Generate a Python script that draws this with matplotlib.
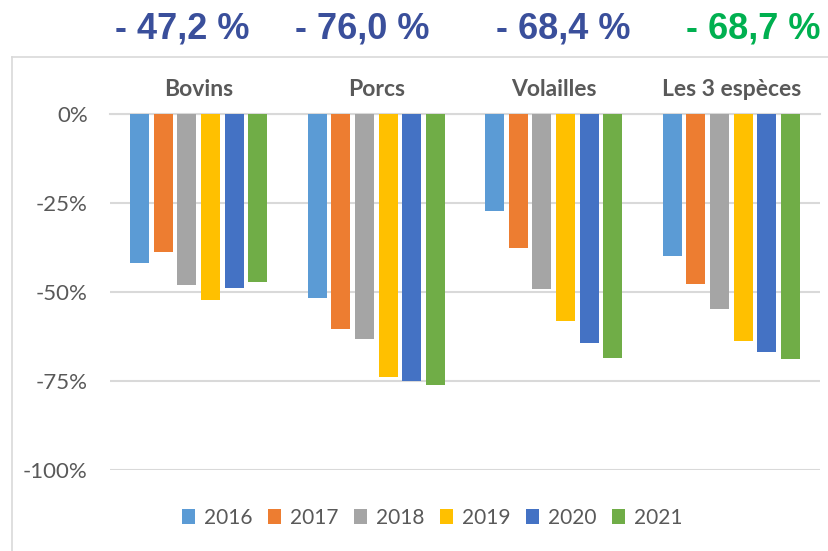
import matplotlib
matplotlib.use("Agg")
import matplotlib.pyplot as plt
from matplotlib.lines import Line2D
import numpy as np

categories = ["Bovins", "Porcs", "Volailles", "Les 3 espèces"]
years = ["2016", "2017", "2018", "2019", "2020", "2021"]
values = {
    "2016": [-41.9, -51.6, -27.3, -40.0],
    "2017": [-38.9, -60.3, -37.5, -47.8],
    "2018": [-48.0, -63.3, -49.2, -54.9],
    "2019": [-52.2, -73.8, -58.1, -63.9],
    "2020": [-48.8, -75.1, -64.4, -66.8],
    "2021": [-47.2, -76.0, -68.4, -68.7],
}
colors = ["#5B9BD5", "#ED7D31", "#A5A5A5", "#FFC000", "#4472C4", "#70AD47"]
headline = ["- 47,2 %", "- 76,0 %", "- 68,4 %", "- 68,7 %"]
headline_colors = ["#3A4F9B", "#3A4F9B", "#3A4F9B", "#00B050"]
yticks = [0, -25, -50, -75, -100]
ytick_labels = ["0%", "-25%", "-50%", "-75%", "-100%"]

W, H = 829, 551
fig = plt.figure(figsize=(W / 100, H / 100), dpi=100)
fig.patch.set_facecolor("white")

# chart frame
fl = 12 / W
ft = 1 - 57 / H
fig.add_artist(Line2D([fl, fl], [0, ft], color="#D9D9D9", lw=1.2, transform=fig.transFigure))
fig.add_artist(Line2D([fl, 1.0], [ft, ft], color="#D9D9D9", lw=1.2, transform=fig.transFigure))

ax = fig.add_axes([110 / W, 1 - 470 / H, 710 / W, 356 / H])
x = np.arange(len(categories))
pitch = 0.1331
bw = 0.1077
for i, y in enumerate(years):
    ax.bar(x + (i - 2.5) * pitch, values[y], width=bw, color=colors[i], label=y, zorder=3)

ax.set_xlim(-0.5, len(categories) - 0.5)
ax.set_ylim(-100, 0)
ax.set_yticks(yticks)
ax.set_yticklabels(ytick_labels, fontfamily="Lato", fontsize=16, color="#595959")
ax.yaxis.grid(True, color="#D9D9D9", lw=1.5, zorder=0)
ax.set_axisbelow(True)
ax.tick_params(axis="y", length=0, pad=16)
ax.xaxis.tick_top()
ax.set_xticks(x)
ax.set_xticklabels(categories, fontfamily="Lato", fontweight="bold", fontsize=16.5, color="#595959")
ax.tick_params(axis="x", length=0, pad=10)
for s in ax.spines.values():
    s.set_visible(False)
ax.axhline(0, color="#D9D9D9", lw=1.5, zorder=1, clip_on=False)

# headline numbers
hx = [182, 362, 563, 753]
for t, c, px in zip(headline, headline_colors, hx):
    fig.text(px / W, 1 - 29 / H, t, ha="center", va="center", fontfamily="Liberation Sans",
             fontweight="bold", fontsize=26, color=c)

leg = fig.legend(loc="center", bbox_to_anchor=(432 / W, 1 - 518 / H), ncol=6, frameon=False,
                 handlelength=0.65, handleheight=0.75, handletextpad=0.4, columnspacing=0.75,
                 prop={"family": "Lato", "size": 15})
for t in leg.get_texts():
    t.set_color("#595959")

fig.savefig("out.png", dpi=100, facecolor="white")
